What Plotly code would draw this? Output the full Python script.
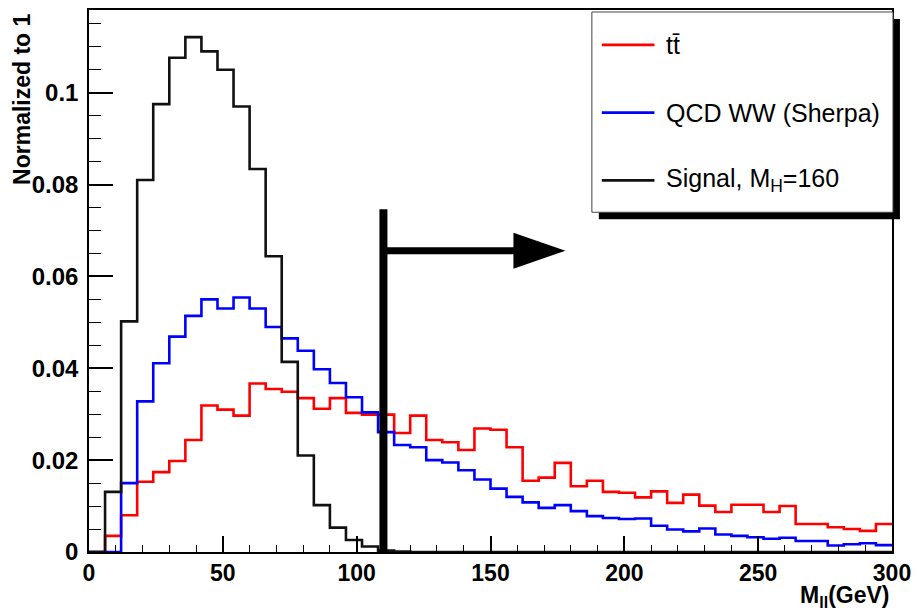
import plotly.graph_objects as go

# ---------------- data ----------------
bin_width = 6
bin_low = list(range(0, 300, bin_width))  # 50 bins, 0..300 GeV

ttbar = [0.0, 0.0035, 0.008, 0.0153, 0.0174, 0.0198, 0.0244, 0.0319, 0.031, 0.0297,
         0.0367, 0.0355, 0.0349, 0.0335, 0.0312, 0.0335, 0.0303, 0.0299, 0.0299, 0.0259,
         0.0297, 0.0244, 0.0239, 0.0222, 0.0269, 0.0266, 0.0228, 0.0155, 0.0162, 0.0194,
         0.0143, 0.0155, 0.0131, 0.0129, 0.0119, 0.0132, 0.0107, 0.0125, 0.0101, 0.0087,
         0.0103, 0.0103, 0.0087, 0.0100, 0.0061, 0.0061, 0.0054, 0.0050, 0.0046, 0.0061]

qcd_ww = [0.0, 0.0, 0.015, 0.0328, 0.0411, 0.0469, 0.0514, 0.055, 0.053, 0.0554,
          0.053, 0.049, 0.0465, 0.0438, 0.0398, 0.0368, 0.0337, 0.0304, 0.0261, 0.0233,
          0.0228, 0.020, 0.0195, 0.0178, 0.0158, 0.0138, 0.012, 0.0108, 0.0096, 0.0102,
          0.0089, 0.0078, 0.0074, 0.0072, 0.0073, 0.0057, 0.0049, 0.0045, 0.0051, 0.0038,
          0.0035, 0.0032, 0.0029, 0.0031, 0.0024, 0.0024, 0.0014, 0.0017, 0.0019, 0.0015]

signal = [0.0, 0.0131, 0.0502, 0.081, 0.0975, 0.1076, 0.1121, 0.109, 0.105, 0.097,
          0.0834, 0.0644, 0.0414, 0.021, 0.0102, 0.0053, 0.0026, 0.0012, 0.0003, 0.0001,
          0.0, 0.0, 0.0, 0.0, 0.0, 0.0, 0.0, 0.0, 0.0, 0.0,
          0.0, 0.0, 0.0, 0.0, 0.0, 0.0, 0.0, 0.0, 0.0, 0.0,
          0.0, 0.0, 0.0, 0.0, 0.0, 0.0, 0.0, 0.0, 0.0, 0.0]

series_names = ["tt\u0304", "QCD WW (Sherpa)", "Signal, M<sub>H</sub>=160"]
series_colors = ["#ff0000", "#0000ff", "#111111"]

x_tickvals = [0, 50, 100, 150, 200, 250, 300]
x_ticktext = ["0", "50", "100", "150", "200", "250", "300"]
y_tickvals = [0, 0.02, 0.04, 0.06, 0.08, 0.1]
y_ticktext = ["0", "0.02", "0.04", "0.06", "0.08", "0.1"]

cut_value = 110       # M_ll cut (GeV)
arrow_tip = 178       # arrow end (GeV)
arrow_level = 0.0656  # arrow height
cut_top = 0.0746      # top of cut line

FONT = "Liberation Sans, Arial, sans-serif"

# ---------------- figure ----------------
fig = go.Figure()

def step_xy(vals):
    xs = list(bin_low) + [bin_low[-1] + bin_width]
    ys = list(vals) + [vals[-1]]
    return xs, ys

for vals, name, col in zip([ttbar, qcd_ww, signal], series_names, series_colors):
    xs, ys = step_xy(vals)
    fig.add_trace(go.Scatter(x=xs, y=ys, mode="lines", line=dict(color=col, width=2.6, shape="hv"),
                             name=name, showlegend=False, hoverinfo="skip"))

shapes = []
# cut line and arrow
shapes.append(dict(type="line", xref="x", yref="y", x0=cut_value, x1=cut_value, y0=0, y1=cut_top,
                   line=dict(color="black", width=8), layer="above"))
shapes.append(dict(type="line", xref="x", yref="y", x0=cut_value, x1=arrow_tip - 12, y0=arrow_level, y1=arrow_level,
                   line=dict(color="black", width=7), layer="above"))
shapes.append(dict(type="path", xref="x", yref="y", xsizemode="pixel", ysizemode="pixel",
                   xanchor=arrow_tip, yanchor=arrow_level,
                   path="M0,0 L-52,18 L-52,-18 Z", fillcolor="black", line=dict(width=0), layer="above"))

# legend box (manual) with shadow
px = lambda p: (p - 89) / 808.0
py = lambda p: (552 - p) / 544.0
shapes.append(dict(type="rect", xref="paper", yref="paper", x0=px(602), x1=px(905), y0=py(218), y1=py(17),
                   fillcolor="black", line=dict(width=0), layer="above"))
shapes.append(dict(type="rect", xref="paper", yref="paper", x0=px(595), x1=px(898), y0=py(211), y1=py(10),
                   fillcolor="white", line=dict(color="#444", width=1), layer="above"))
leg_rows = [43, 111, 179]
annotations = []
for row, name, col in zip(leg_rows, series_names, series_colors):
    shapes.append(dict(type="line", xref="paper", yref="paper", x0=px(605), x1=px(658), y0=py(row), y1=py(row),
                       line=dict(color=col, width=2.6), layer="above"))
    annotations.append(dict(xref="paper", yref="paper", x=px(668), y=py(row), xanchor="left", yanchor="middle",
                            text=name, showarrow=False, font=dict(family=FONT, size=25, color="black")))

# axis titles
annotations.append(dict(xref="paper", yref="paper", x=px(896), y=py(597), xanchor="right", yanchor="middle",
                        text="<b>M<sub>ll</sub>(GeV)</b>", showarrow=False,
                        font=dict(family=FONT, size=23, color="black")))
annotations.append(dict(xref="paper", yref="paper", x=px(22), y=py(10), xanchor="center", yanchor="top",
                        text="<b>Normalized to 1</b>", textangle=-90, showarrow=False,
                        font=dict(family=FONT, size=23, color="black")))

fig.update_layout(
    width=919, height=610,
    margin=dict(l=89, r=22, t=8, b=58),
    paper_bgcolor="white", plot_bgcolor="white",
    shapes=shapes, annotations=annotations,
    showlegend=False,
    xaxis=dict(range=[0, 300], showgrid=False, zeroline=False, showline=True, linecolor="black", linewidth=1.5,
               mirror=True, ticks="inside", ticklen=16, tickwidth=1.5, tickcolor="black",
               tickvals=x_tickvals, ticktext=x_ticktext, ticklabelstandoff=0,
               tickfont=dict(family=FONT, size=23, color="black", weight="bold"),
               minor=dict(ticks="inside", dtick=10, ticklen=7, tickwidth=1.2, tickcolor="black", showgrid=False)),
    yaxis=dict(range=[0, 0.118], showgrid=False, zeroline=False, showline=True, linecolor="black", linewidth=1.5,
               mirror=True, ticks="inside", ticklen=24, tickwidth=1.5, tickcolor="black",
               tickvals=y_tickvals, ticktext=y_ticktext, ticklabelstandoff=4,
               tickfont=dict(family=FONT, size=24, color="black", weight="bold"),
               minor=dict(ticks="inside", dtick=0.005, ticklen=12, tickwidth=1.2, tickcolor="black", showgrid=False)),
)

fig.write_html("out.html")
